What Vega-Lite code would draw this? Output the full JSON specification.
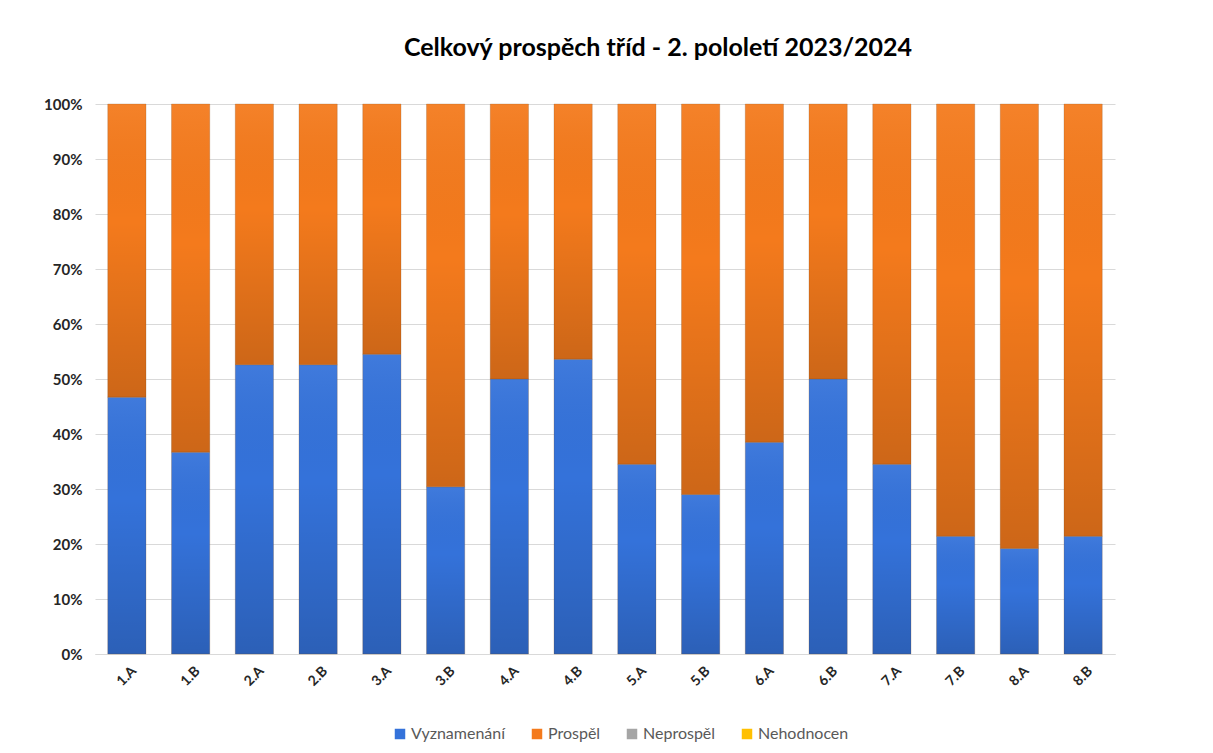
{
  "$schema": "https://vega.github.io/schema/vega-lite/v6.json",
  "width": 1020,
  "height": 550,
  "autosize": "none",
  "padding": {"left": 95, "top": 104, "right": 98, "bottom": 99},
  "background": "white",
  "title": {
    "text": "Celkový prospěch tříd - 2. pololetí 2023/2024",
    "font": "Lato",
    "fontSize": 25,
    "fontWeight": "bold",
    "color": "#000000",
    "anchor": "middle",
    "dx": 53,
    "offset": 36
  },
  "data": {
    "values": [
      {"trida": "1.A", "prospech": "Vyznamenání", "podil": 46.7},
      {"trida": "1.A", "prospech": "Prospěl", "podil": 53.3},
      {"trida": "1.B", "prospech": "Vyznamenání", "podil": 36.7},
      {"trida": "1.B", "prospech": "Prospěl", "podil": 63.3},
      {"trida": "2.A", "prospech": "Vyznamenání", "podil": 52.6},
      {"trida": "2.A", "prospech": "Prospěl", "podil": 47.4},
      {"trida": "2.B", "prospech": "Vyznamenání", "podil": 52.6},
      {"trida": "2.B", "prospech": "Prospěl", "podil": 47.4},
      {"trida": "3.A", "prospech": "Vyznamenání", "podil": 54.5},
      {"trida": "3.A", "prospech": "Prospěl", "podil": 45.5},
      {"trida": "3.B", "prospech": "Vyznamenání", "podil": 30.4},
      {"trida": "3.B", "prospech": "Prospěl", "podil": 69.6},
      {"trida": "4.A", "prospech": "Vyznamenání", "podil": 50.0},
      {"trida": "4.A", "prospech": "Prospěl", "podil": 50.0},
      {"trida": "4.B", "prospech": "Vyznamenání", "podil": 53.6},
      {"trida": "4.B", "prospech": "Prospěl", "podil": 46.4},
      {"trida": "5.A", "prospech": "Vyznamenání", "podil": 34.5},
      {"trida": "5.A", "prospech": "Prospěl", "podil": 65.5},
      {"trida": "5.B", "prospech": "Vyznamenání", "podil": 29.0},
      {"trida": "5.B", "prospech": "Prospěl", "podil": 71.0},
      {"trida": "6.A", "prospech": "Vyznamenání", "podil": 38.5},
      {"trida": "6.A", "prospech": "Prospěl", "podil": 61.5},
      {"trida": "6.B", "prospech": "Vyznamenání", "podil": 50.0},
      {"trida": "6.B", "prospech": "Prospěl", "podil": 50.0},
      {"trida": "7.A", "prospech": "Vyznamenání", "podil": 34.5},
      {"trida": "7.A", "prospech": "Prospěl", "podil": 65.5},
      {"trida": "7.B", "prospech": "Vyznamenání", "podil": 21.4},
      {"trida": "7.B", "prospech": "Prospěl", "podil": 78.6},
      {"trida": "8.A", "prospech": "Vyznamenání", "podil": 19.2},
      {"trida": "8.A", "prospech": "Prospěl", "podil": 80.8},
      {"trida": "8.B", "prospech": "Vyznamenání", "podil": 21.4},
      {"trida": "8.B", "prospech": "Prospěl", "podil": 78.6}
    ]
  },
  "transform": [
    {"stack": "podil", "groupby": ["trida"], "sort": [{"field": "prospech", "order": "descending"}], "as": ["y0", "y1"]}
  ],
  "encoding": {
    "x": {
      "field": "trida",
      "type": "nominal",
      "sort": null,
      "scale": {"paddingInner": 0.4, "paddingOuter": 0.2},
      "axis": {
        "title": null,
        "labelAngle": -45,
        "labelAlign": "center",
        "labelBaseline": "middle",
        "labelPadding": 22,
        "ticks": false,
        "tickSize": 0,
        "domainColor": "#D9D9D9",
        "labelFont": "Lato",
        "labelFontSize": 14,
        "labelFontWeight": "bold",
        "labelColor": "#262626"
      }
    },
    "y": {
      "field": "y0",
      "type": "quantitative",
      "scale": {"domain": [0, 100], "nice": false},
      "axis": {
        "title": null,
        "values": [0, 10, 20, 30, 40, 50, 60, 70, 80, 90, 100],
        "labelExpr": "datum.value + '%'",
        "domain": false,
        "ticks": false,
        "labelPadding": 13,
        "gridColor": "#D9D9D9",
        "labelFont": "Lato",
        "labelFontSize": 15,
        "labelFontWeight": "bold",
        "labelColor": "#262626"
      }
    },
    "y2": {"field": "y1"}
  },
  "layer": [
    {
      "mark": {"type": "bar", "stroke": "#7F4B1E", "strokeOpacity": 0.3, "strokeWidth": 0.8},
      "encoding": {
        "color": {
          "field": "prospech",
          "type": "nominal",
          "scale": {
            "domain": ["Vyznamenání", "Prospěl", "Neprospěl", "Nehodnocen"],
            "range": ["#3472DA", "#F47A1C", "#A5A5A5", "#FFC000"]
          },
          "legend": {
            "title": null,
            "orient": "none",
            "legendX": 297,
            "legendY": 622,
            "direction": "horizontal",
            "symbolType": "square",
            "symbolSize": 110,
            "symbolStrokeWidth": 0,
            "labelFont": "Lato",
            "labelFontSize": 16,
            "labelColor": "#595959",
            "columnPadding": 23,
            "labelOffset": 3
          }
        }
      }
    },
    {
      "mark": {
        "type": "bar",
        "fill": {
          "gradient": "linear",
          "x1": 0, "y1": 0, "x2": 0, "y2": 1,
          "stops": [
            {"offset": 0, "color": "rgba(255,255,255,0.06)"},
            {"offset": 0.4, "color": "rgba(0,0,0,0.0)"},
            {"offset": 1, "color": "rgba(0,0,0,0.16)"}
          ]
        },
        "stroke": null
      },
      "encoding": {}
    }
  ],
  "config": {
    "view": {"stroke": null},
    "font": "Lato"
  }
}
